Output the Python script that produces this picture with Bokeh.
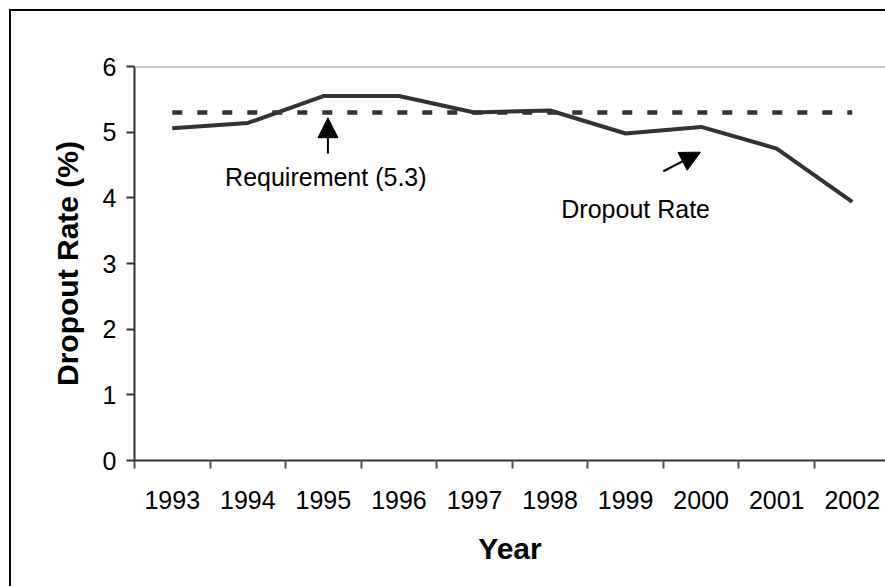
from bokeh.plotting import figure
from bokeh.models import Range1d, FixedTicker, Span, Label, Arrow, NormalHead
from bokeh.embed import file_html
from bokeh.resources import INLINE

years = ["1993", "1994", "1995", "1996", "1997", "1998", "1999", "2000", "2001", "2002"]
dropout_rate = [5.06, 5.14, 5.55, 5.55, 5.30, 5.33, 4.98, 5.08, 4.75, 3.94]
requirement = 5.3
y_ticks = [0, 1, 2, 3, 4, 5, 6]

FONT = "Liberation Sans"
x = [i + 0.5 for i in range(len(years))]

p = figure(width=885, height=586, output_backend="svg", toolbar_location=None,
           x_range=Range1d(0, 9.94), y_range=Range1d(0, 6),
           min_border_left=134, min_border_right=0, min_border_top=66, min_border_bottom=126,
           x_axis_label="Year", y_axis_label="Dropout Rate (%)")
p.grid.visible = False
p.outline_line_color = None
p.background_fill_color = "white"
p.border_fill_color = None
# outer chart border (left and top edges visible; the rest is cropped)
p.styles = {
    "background-color": "white",
    "background-image": "linear-gradient(#000,#000), linear-gradient(#000,#000)",
    "background-size": "2px 100%, 100% 2px",
    "background-position": "9px 9px, 9px 9px",
    "background-repeat": "no-repeat",
}

# x axis: labels at centres, ticks between categories
xa = p.xaxis[0]
xa.ticker = FixedTicker(ticks=x, minor_ticks=list(range(0, len(years) + 1)))
xa.major_label_overrides = {xi: yr for xi, yr in zip(x, years)}
xa.major_tick_line_color = None
xa.major_tick_out = 0
xa.major_tick_in = 0
xa.minor_tick_out = 8
xa.minor_tick_in = 0
xa.minor_tick_line_color = "#555555"
xa.minor_tick_line_width = 2
xa.axis_line_color = "#333333"
xa.axis_line_width = 2
xa.major_label_text_font = FONT
xa.major_label_text_font_size = "25px"
xa.major_label_text_color = "black"
xa.major_label_standoff = 22
xa.axis_label_text_font = FONT
xa.axis_label_text_font_size = "30px"
xa.axis_label_text_font_style = "bold"
xa.axis_label_text_color = "black"
xa.axis_label_standoff = 20

ya = p.yaxis[0]
ya.ticker = FixedTicker(ticks=y_ticks)
ya.major_tick_out = 8
ya.major_tick_in = 0
ya.minor_tick_out = 0
ya.minor_tick_in = 0
ya.major_tick_line_color = "#333333"
ya.major_tick_line_width = 2
ya.axis_line_color = "#333333"
ya.axis_line_width = 2
ya.major_label_text_font = FONT
ya.major_label_text_font_size = "25px"
ya.major_label_text_color = "black"
ya.major_label_standoff = 10
ya.axis_label_text_font = FONT
ya.axis_label_text_font_size = "30px"
ya.axis_label_text_font_style = "bold"
ya.axis_label_text_color = "black"
ya.axis_label_standoff = 16

# top edge of plot area
p.add_layout(Span(location=6, dimension="width", line_color="#999999", line_width=2))

# series
p.line([x[0], x[-1]], [requirement, requirement], line_color="#333333", line_width=4.5,
       line_dash="10 15")
p.line(x, dropout_rate, line_color="#333333", line_width=4)

# annotations
p.add_layout(Arrow(end=NormalHead(size=20, fill_color="black", line_color="black"),
                   x_start=2.56, y_start=4.675, x_end=2.56, y_end=5.22,
                   line_color="black", line_width=2))
p.add_layout(Arrow(end=NormalHead(size=20, fill_color="black", line_color="black"),
                   x_start=7.0, y_start=4.405, x_end=7.49, y_end=4.695,
                   line_color="black", line_width=2))
p.add_layout(Label(x=1.199, y=4.314, text="Requirement (5.3)", text_font=FONT,
                   text_font_size="25px", text_color="black", text_baseline="alphabetic"))
p.add_layout(Label(x=5.649, y=3.837, text="Dropout Rate", text_font=FONT,
                   text_font_size="25px", text_color="black", text_baseline="alphabetic"))

open("out.html", "w").write(file_html(p, INLINE))
